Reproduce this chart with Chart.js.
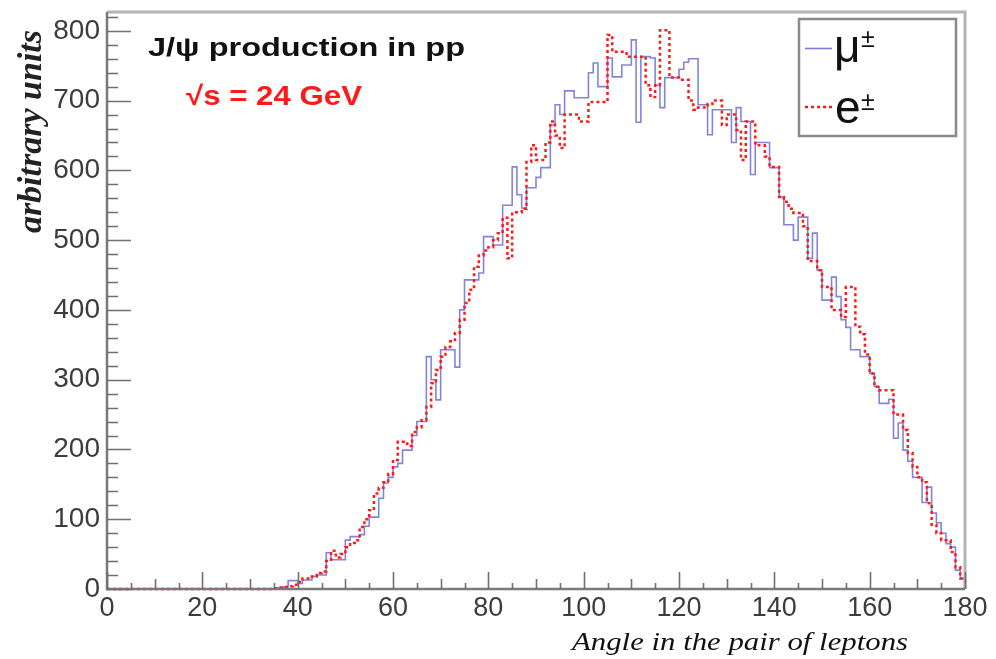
<!DOCTYPE html>
<html><head><meta charset="utf-8">
<script src="https://cdn.jsdelivr.net/npm/chart.js@4"></script>
<style>html,body{margin:0;padding:0;background:#fff}#wrap{width:996px;height:659px;position:relative}</style>
</head><body><div id="wrap"><canvas id="c"></canvas></div>
<script>
// bin lower edges (1 degree bins) plus the last upper edge
const binEdges = Array.from({length: 181}, (_, i) => i);
const xTicks = [0, 20, 40, 60, 80, 100, 120, 140, 160, 180];
const yTicks = [0, 100, 200, 300, 400, 500, 600, 700, 800];
const seriesLabels = ['μ', 'e'];
const titleText = 'J/ψ production in pp';
const energyText = '√s = 24 GeV';
const yTitle = 'arbitrary units';
const xTitle = 'Angle in the pair of leptons';

const muValues = [
  0,0,0,0,0,0,0,0,0,0, 0,0,0,0,0,0,0,0,0,0,
  0,0,0,0,0,0,0,0,0,0, 0,0,0,0,0,1,2,3,12,12,
  8,13,13,18,20,20,52,42,42,42, 70,75,75,78,90,103,103,130,152,160,
  175,180,199,199,220,240,240,333,300,271, 343,343,343,318,400,443,443,443,453,505,
  505,493,493,550,550,605,565,546,575,575, 590,604,604,665,694,680,714,714,704,704,
  704,740,754,720,720,761,734,734,751,751, 787,669,763,763,761,722,690,733,733,733,
  745,755,760,760,694,694,651,687,687,687, 687,640,690,670,670,594,640,640,640,604,
  604,562,522,522,500,533,533,474,510,457, 414,414,447,419,386,375,343,343,333,333,
  309,290,266,266,272,216,238,199,183,160, 160,124,146,109,95,80,65,60,27,15
];
const eValues = [
  0,0,0,0,0,0,0,0,0,0, 0,0,0,0,0,0,0,0,0,0,
  0,0,0,0,0,0,0,0,0,0, 0,0,0,0,0,1,2,3,4,6,
  10,15,15,18,23,25,40,55,45,50, 60,66,70,89,100,113,137,145,153,165,
  185,211,211,205,225,232,242,261,295,314, 333,347,355,367,386,410,429,462,478,485,
  490,500,510,532,474,540,540,545,612,636, 615,615,640,670,650,632,680,680,680,670,
  670,698,698,698,698,794,770,770,770,763, 763,763,763,722,705,722,801,801,733,733,
  730,730,700,687,690,690,695,700,700,665, 680,680,658,615,670,670,636,636,620,605,
  605,562,555,545,539,539,520,470,470,457, 433,433,400,400,390,433,433,376,365,336,
  309,290,285,285,285,250,250,228,195,175, 160,153,123,92,80,70,70,53,31,15
];

function histPoints(vals) {
  const pts = vals.map((v, i) => ({x: binEdges[i], y: v}));
  const last = binEdges[binEdges.length - 1];
  pts.push({x: last, y: vals[vals.length - 1]});
  pts.push({x: last, y: 0});
  return pts;
}

const FONT = "'Liberation Sans', Arial, Helvetica, sans-serif";
Chart.defaults.font.family = FONT;

function drawFitted(ctx, text, x, y, font, targetW) {
  ctx.font = font;
  const w = ctx.measureText(text).width;
  const sx = targetW ? targetW / w : 1;
  ctx.save();
  ctx.translate(x, y);
  ctx.scale(sx, 1);
  ctx.fillText(text, 0, 0);
  ctx.restore();
}

const decor = {
  id: 'decor',
  afterDatasetsDraw(chart) {
    const {ctx, chartArea: a, scales: {x, y}} = chart;
    ctx.save();
    // frame top/right
    ctx.strokeStyle = '#b4b4b4';
    ctx.lineWidth = 3;
    ctx.beginPath();
    ctx.moveTo(a.left, a.top); ctx.lineTo(a.right, a.top); ctx.lineTo(a.right, a.bottom);
    ctx.stroke();
    // axes
    ctx.strokeStyle = '#7a7a7a';
    ctx.lineWidth = 2.5;
    ctx.beginPath();
    ctx.moveTo(a.left, a.top); ctx.lineTo(a.left, a.bottom); ctx.lineTo(a.right, a.bottom);
    ctx.stroke();
    // inner ticks
    ctx.lineWidth = 1.6;
    ctx.strokeStyle = '#707070';
    ctx.beginPath();
    const xStep = (xTicks[1] - xTicks[0]) / 4;
    for (let v = xTicks[0]; v <= xTicks[xTicks.length - 1] + 1e-9; v += xStep) {
      const px = Math.round(x.getPixelForValue(v)) + 0.5;
      const k = Math.round(v / xStep);
      const len = k % 4 === 0 ? 17 : (k % 2 === 0 ? 10 : 6);
      ctx.moveTo(px, a.bottom); ctx.lineTo(px, a.bottom - len);
    }
    const yStep = (yTicks[1] - yTicks[0]) / 5;
    for (let v = 0; v <= y.max; v += yStep) {
      const py = Math.round(y.getPixelForValue(v)) + 0.5;
      const k = Math.round(v / yStep);
      const len = k % 5 === 0 ? 24 : 11;
      ctx.moveTo(a.left, py); ctx.lineTo(a.left + len, py);
    }
    ctx.stroke();

    // texts
    ctx.textBaseline = 'alphabetic';
    ctx.textAlign = 'left';
    ctx.fillStyle = '#111';
    drawFitted(ctx, titleText, 148, 56, "bold 26px " + FONT, 317);
    ctx.fillStyle = '#ff1a1a';
    drawFitted(ctx, energyText, 186, 105, "bold 27px " + FONT, 176);

    // y title
    ctx.save();
    ctx.fillStyle = '#222';
    ctx.translate(41, 30);
    ctx.rotate(-Math.PI / 2);
    ctx.textAlign = 'right';
    ctx.font = "bold italic 34px 'Liberation Serif', 'Times New Roman', serif";
    ctx.fillText(yTitle, 0, 0);
    ctx.restore();

    // x title
    ctx.fillStyle = '#111';
    drawFitted(ctx, xTitle, 572, 650, "italic 26px 'Liberation Serif', serif", 336);

    // legend box
    ctx.fillStyle = '#fff';
    ctx.fillRect(799, 19, 157, 117);
    ctx.strokeStyle = '#8a8a8a';
    ctx.lineWidth = 2.5;
    ctx.strokeRect(799, 19, 157, 117);
    // samples
    ctx.lineWidth = 1.6;
    ctx.strokeStyle = 'rgba(110,110,215,0.9)';
    ctx.beginPath(); ctx.moveTo(805, 48.5); ctx.lineTo(832, 48.5); ctx.stroke();
    ctx.strokeStyle = '#ff1a1a';
    ctx.lineWidth = 2.5;
    ctx.setLineDash([3, 3]);
    ctx.beginPath(); ctx.moveTo(805, 107); ctx.lineTo(834, 107); ctx.stroke();
    ctx.setLineDash([]);
    ctx.fillStyle = '#111';
    ctx.font = "46px " + FONT;
    ctx.fillText(seriesLabels[0], 834, 62);
    ctx.fillText(seriesLabels[1], 835, 123);
    ctx.font = "25px " + FONT;
    ctx.fillText('±', 861, 47);
    ctx.fillText('±', 861, 110);
    ctx.restore();
  }
};

new Chart(document.getElementById('c'), {
  type: 'line',
  data: {
    datasets: [
      {label: 'e±', data: histPoints(eValues), stepped: true, borderColor: '#ff1a1a', borderWidth: 2.5,
       borderDash: [3, 3], pointRadius: 0, fill: false, clip: 6, order: 0},
      {label: 'μ±', data: histPoints(muValues), stepped: true, borderColor: 'rgba(110,110,215,0.85)', borderWidth: 1.6,
       pointRadius: 0, fill: false, clip: 6, order: 1}
    ]
  },
  options: {
    responsive: true, maintainAspectRatio: false, animation: false,
    layout: {padding: {top: 12, right: 31, left: 0, bottom: 0}},
    plugins: {legend: {display: false}, tooltip: {enabled: false}},
    scales: {
      x: {
        type: 'linear', min: 0, max: 180,
        grid: {display: false, drawTicks: false}, border: {display: false},
        ticks: {color: '#3c3c3c', font: {size: 27}, padding: 3, maxRotation: 0, autoSkip: false, includeBounds: false},
        afterBuildTicks: s => { s.ticks = xTicks.map(v => ({value: v})); },
        afterFit: s => { s.height = 70; s.paddingLeft = 0; s.paddingRight = 0; }
      },
      y: {
        type: 'linear', min: 0, max: 827,
        grid: {display: false, drawTicks: false}, border: {display: false},
        ticks: {color: '#3c3c3c', font: {size: 28}, padding: 7, autoSkip: false, includeBounds: false},
        afterBuildTicks: s => { s.ticks = yTicks.map(v => ({value: v})); },
        afterFit: s => { s.width = 107; s.paddingTop = 0; s.paddingBottom = 0; }
      }
    }
  },
  plugins: [decor]
});
</script>
</body></html>
